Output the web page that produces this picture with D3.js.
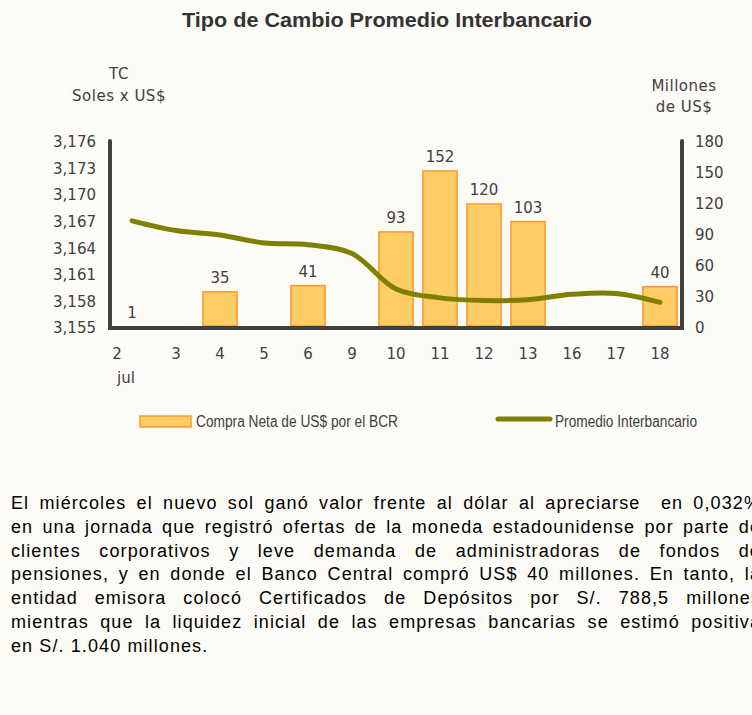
<!DOCTYPE html>
<html>
<head>
<meta charset="utf-8">
<script src="https://cdn.jsdelivr.net/npm/d3@7"></script>
<style>
  html, body { margin: 0; padding: 0; background: #fcfbf6; }
  svg { display: block; }
</style>
</head>
<body>
<div id="chart"></div>
<script>
// data
const days = ["2", "3", "4", "5", "6", "9", "10", "11", "12", "13", "16", "17", "18"];
const compraNeta = [1, 0, 35, 0, 41, 0, 93, 152, 120, 103, 0, 0, 40];
const promedio = [3.1671, 3.1660, 3.1655, 3.1646, 3.1644, 3.1634, 3.1594, 3.1584, 3.1581, 3.1582, 3.1588, 3.1589, 3.1579];
const leftTicks = [3.155, 3.158, 3.161, 3.164, 3.167, 3.170, 3.173, 3.176];
const rightTicks = [0, 30, 60, 90, 120, 150, 180];
const noteLines = [
    "El miércoles el nuevo sol ganó valor frente al dólar al apreciarse  en 0,032%",
    "en una jornada que registró ofertas de la moneda estadounidense por parte de",
    "clientes corporativos y leve demanda de administradoras de fondos de",
    "pensiones, y en donde el Banco Central compró US$ 40 millones. En tanto, la",
    "entidad emisora colocó Certificados de Depósitos por S/. 788,5 millones",
    "mientras que la liquidez inicial de las empresas bancarias se estimó positiva",
    "en S/. 1.040 millones."
];

const width = 752, height = 715;
const plot = { left: 110, right: 682, top: 142, bottom: 328 };
const axisColor = "#404040";
const tickFont = "'DejaVu Sans', Verdana, sans-serif";

const es = d3.formatLocale({ decimal: ",", thousands: ".", grouping: [3], currency: ["S/. ", ""] });
const fmtTC = es.format(".3f");

const svg = d3.select("#chart").append("svg")
    .attr("width", width)
    .attr("height", height);

svg.append("rect").attr("width", width).attr("height", height).attr("fill", "#fcfbf6");

// title
svg.append("text")
    .attr("x", 387).attr("y", 27)
    .attr("text-anchor", "middle")
    .style("font-family", "'Liberation Sans', Arial, sans-serif")
    .style("font-weight", "bold")
    .style("font-size", "21px")
    .attr("textLength", 410)
    .attr("lengthAdjust", "spacingAndGlyphs")
    .attr("fill", "#333")
    .text("Tipo de Cambio Promedio Interbancario");

// scales
const x = d3.scaleBand()
    .domain(days)
    .range([plot.left, plot.right])
    .paddingInner(0.22)
    .paddingOuter(0.11);

const yL = d3.scaleLinear().domain([3.155, 3.176]).range([plot.bottom, plot.top]);
const yR = d3.scaleLinear().domain([0, 180]).range([plot.bottom, plot.top]);

const barData = compraNeta.map((v, i) => ({ day: days[i], v })).filter(d => d.v > 0);

// bars
svg.append("g").selectAll("rect")
    .data(barData)
    .join("rect")
    .attr("x", d => x(d.day))
    .attr("y", d => yR(d.v))
    .attr("width", x.bandwidth())
    .attr("height", d => Math.max(0, yR(0) - yR(d.v) - 2))
    .attr("fill", "#ffcc66")
    .attr("stroke", "#ff9933")
    .attr("stroke-width", 1.5);

// bar values
svg.append("g").selectAll("text")
    .data(barData)
    .join("text")
    .attr("x", d => x(d.day) + x.bandwidth() / 2)
    .attr("y", d => yR(d.v) - 9)
    .attr("text-anchor", "middle")
    .style("font-family", tickFont)
    .style("font-size", "15px")
    .attr("fill", axisColor)
    .text(d => d.v);

// smoothed exchange-rate line
const line = d3.line()
    .x((d, i) => x(days[i]) + x.bandwidth() / 2)
    .y(d => yL(d))
    .curve(d3.curveCatmullRom.alpha(0.5));

svg.append("path")
    .datum(promedio)
    .attr("d", line)
    .attr("fill", "none")
    .attr("stroke", "#808000")
    .attr("stroke-width", 5)
    .attr("stroke-linecap", "round");

// axis frame
svg.append("path")
    .attr("d", `M${plot.left},${plot.top - 1}V${plot.bottom}H${plot.right}V${plot.top - 1}`)
    .attr("fill", "none")
    .attr("stroke", axisColor)
    .attr("stroke-width", 4)
    .attr("stroke-linecap", "round")
    .attr("stroke-linejoin", "miter");

function styleAxis(g) {
    g.select(".domain").remove();
    g.selectAll(".tick line").remove();
    g.selectAll("text")
        .style("font-family", tickFont)
        .style("font-size", "15px")
        .attr("fill", axisColor);
}

svg.append("g")
    .attr("transform", `translate(${plot.left},0)`)
    .call(d3.axisLeft(yL).tickValues(leftTicks).tickFormat(fmtTC).tickSize(0).tickPadding(14))
    .call(styleAxis);

svg.append("g")
    .attr("transform", `translate(${plot.right},0)`)
    .call(d3.axisRight(yR).tickValues(rightTicks).tickSize(0).tickPadding(13))
    .call(styleAxis);

const xAxis = svg.append("g")
    .attr("transform", `translate(0,${plot.bottom})`)
    .call(d3.axisBottom(x).tickSize(0).tickPadding(20))
    .call(styleAxis);

// first day label sits left, with the month under it
xAxis.selectAll(".tick").filter(d => d === "2").select("text").attr("x", -15);
xAxis.select(".tick").append("text")
    .attr("y", 55)
    .attr("x", -6)
    .attr("text-anchor", "middle")
    .style("font-family", tickFont)
    .style("font-size", "15px")
    .attr("fill", axisColor)
    .text("jul");

// axis titles
const axisTitle = (txt, cx, cy) => svg.append("text")
    .attr("x", cx).attr("y", cy)
    .attr("text-anchor", "middle")
    .attr("dominant-baseline", "central")
    .style("font-family", tickFont)
    .style("font-size", "15px")
    .style("letter-spacing", "0.5px")
    .attr("fill", axisColor)
    .text(txt);

axisTitle("TC", 119, 74);
axisTitle("Soles x US$", 119, 96);
axisTitle("Millones", 684, 86);
axisTitle("de US$", 684, 107);

// legend
const legendFont = "'Liberation Sans Narrow', 'Arial Narrow', sans-serif";
svg.append("rect")
    .attr("x", 140).attr("y", 416)
    .attr("width", 51).attr("height", 11)
    .attr("fill", "#ffcc66")
    .attr("stroke", "#ff9933")
    .attr("stroke-width", 1.5);
svg.append("text")
    .attr("x", 196).attr("y", 427)
    .style("font-family", legendFont)
    .style("font-size", "16px")
    .attr("textLength", 202)
    .attr("lengthAdjust", "spacingAndGlyphs")
    .attr("fill", axisColor)
    .text("Compra Neta de US$ por el BCR");

svg.append("line")
    .attr("x1", 498).attr("x2", 550)
    .attr("y1", 419).attr("y2", 419)
    .attr("stroke", "#808000")
    .attr("stroke-width", 5)
    .attr("stroke-linecap", "round");
svg.append("text")
    .attr("x", 555).attr("y", 427)
    .style("font-family", legendFont)
    .style("font-size", "16px")
    .attr("textLength", 142)
    .attr("lengthAdjust", "spacingAndGlyphs")
    .attr("fill", axisColor)
    .text("Promedio Interbancario");

// commentary text; justified lines run slightly past the right edge as in the source
const lineWidth = 750;
const note = svg.append("g").selectAll("text")
    .data(noteLines)
    .join("text")
    .attr("x", 11)
    .attr("y", (d, i) => 509 + i * 23.8)
    .style("font-family", "'Liberation Sans', Arial, sans-serif")
    .style("font-size", "18px")
    .style("letter-spacing", "1.1px")
    .style("white-space", "pre")
    .attr("fill", "#000")
    .text(d => d);

// justify: spread the leftover width over the word gaps
note.each(function(d, i) {
    if (i === noteLines.length - 1) return;
    const gaps = (d.match(/ /g) || []).length;
    const extra = lineWidth - this.getComputedTextLength();
    if (gaps > 0) d3.select(this).style("word-spacing", (extra / gaps) + "px");
});
</script>
</body>
</html>
